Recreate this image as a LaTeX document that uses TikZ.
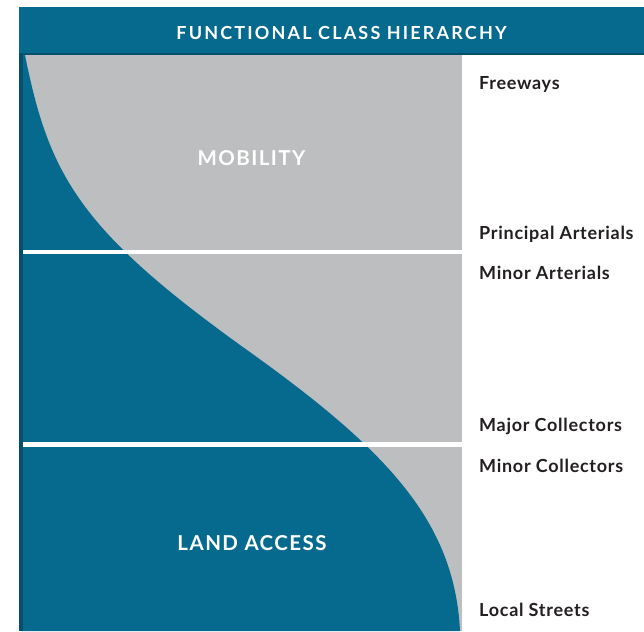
\documentclass[tikz,border=0pt]{standalone}
\usepackage{fontspec}
\setmainfont{Lato}
\definecolor{teal}{HTML}{066A8E}
\definecolor{darkteal}{HTML}{04506C}
\definecolor{gray}{HTML}{BDBEC0}
\definecolor{ink}{HTML}{231F20}
\begin{document}
\begin{tikzpicture}[x=1pt,y=-1pt,
  lbl/.style={anchor=west,inner sep=0pt,text=ink,font=\fontsize{18}{20}\selectfont\bfseries\addfontfeatures{LetterSpace=4}},
  big/.style={inner sep=0pt,text=white,font=\fontsize{20.5}{22}\selectfont\bfseries\addfontfeatures{LetterSpace=7}}]
\useasboundingbox (0,0) rectangle (644,631);
\fill[white] (0,0) rectangle (644,631);
% header
\fill[teal] (19,7) rectangle (644,55);
\fill[darkteal] (19,53) rectangle (644,55.5);
\node[inner sep=0pt,text=white,font=\fontsize{18}{20}\selectfont\bfseries\addfontfeatures{LetterSpace=12}] (title) at (341.5,33) {FUNCTIONAL CLASS HIERARCHY};
% gray panel
\fill[gray] (22,55) rectangle (462,631);
% teal region
\fill[teal] (22,55) -- (25,55)
  .. controls (49,175) and (79,230) .. (247,350)
  .. controls (387,450) and (454.5,521) .. (460,631)
  -- (22,631) -- cycle;
% left strip
\fill[darkteal] (19,55) rectangle (22.5,631);
% separators
\fill[white] (22.5,249.5) rectangle (462,253.5);
\fill[white] (22.5,442) rectangle (462,446.5);
% region labels
\node[big] (mob) at (251.5,158) {MOBILITY};
\node[big] (land) at (252,543) {LAND ACCESS};
% class labels
\node[lbl] (fw) at (479,85) {Freeways};
\node[lbl] (pa) at (479,234) {Principal Arterials};
\node[lbl] (ma) at (479,273) {Minor Arterials};
\node[lbl] (mjc) at (479,426) {Major Collectors};
\node[lbl] (mnc) at (479,466) {Minor Collectors};
\node[lbl] (ls) at (479,610) {Local Streets};
\end{tikzpicture}
\end{document}
